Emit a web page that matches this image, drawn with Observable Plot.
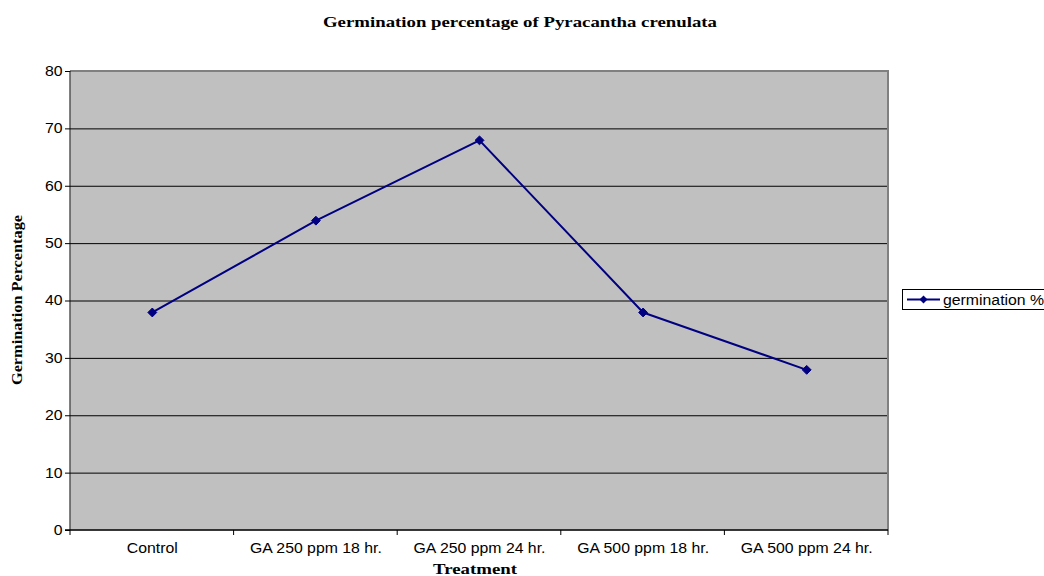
<!DOCTYPE html>
<html><head><meta charset="utf-8">
<script src="https://cdn.jsdelivr.net/npm/d3@7"></script>
<script src="https://cdn.jsdelivr.net/npm/@observablehq/plot@0.6"></script>
<style>body{margin:0;background:#fff}svg{display:block}</style>
</head><body><div id="chart"></div>
<script>
const categories = ["Control", "GA 250 ppm 18 hr.", "GA 250 ppm 24 hr.", "GA 500 ppm 18 hr.", "GA 500 ppm 24 hr."];
const germination = [38, 54, 68, 38, 28];
const yTicks = [0, 10, 20, 30, 40, 50, 60, 70, 80];
const seriesName = "germination %";
const title = "Germination percentage of Pyracantha crenulata";
const xLabel = "Treatment";
const yLabel = "Germination Percentage";

const data = categories.map((c, i) => ({treatment: c, value: germination[i]}));
const navy = "#000080";
const sans = "Liberation Sans, Arial, sans-serif";

const plot = Plot.plot({
  width: 1044, height: 576,
  marginLeft: 70, marginRight: 156, marginTop: 71, marginBottom: 46,
  style: {fontFamily: sans, fontSize: "14px", background: "#fff", overflow: "visible"},
  x: {type: "band", domain: categories, padding: 0, round: false, label: null},
  y: {domain: [0, 80], ticks: yTicks, label: null},
  marks: [
    Plot.frame({fill: "#c0c0c0", stroke: null}),
    Plot.ruleY(yTicks.filter(t => t > 0 && t < 80), {stroke: "#000", strokeWidth: 1}),
    Plot.axisX({tickSize: 0, tickPadding: 13, fill: "#000", fontSize: 14}),
    Plot.axisY({ticks: yTicks, tickSize: 5, tickPadding: 3, fontSize: 14, fill: "#000", stroke: "#000"}),
    Plot.line(data, {x: "treatment", y: "value", stroke: navy, strokeWidth: 2}),
    Plot.dot(data, {x: "treatment", y: "value", symbol: "diamond2", r: 4, fill: navy, stroke: navy, strokeWidth: 1})
  ]
});

const svg = d3.select(plot);
const xs = plot.scale("x"), ys = plot.scale("y");
const x0 = xs.range[0], x1 = xs.range[1];
const yTop = ys.apply(80), yBot = ys.apply(0);
const step = (x1 - x0) / categories.length;
const g = svg.append("g");
g.append("path").attr("d", `M${x0},${yTop}H${x1}V${yBot}`).attr("fill", "none").attr("stroke", "#808080").attr("stroke-width", 2);
g.append("line").attr("x1", x0).attr("x2", x0).attr("y1", yTop).attr("y2", yBot).attr("stroke", "#000");
g.append("line").attr("x1", x0 - 5).attr("x2", x1).attr("y1", yBot).attr("y2", yBot).attr("stroke", "#000").attr("stroke-width", 1.5);
for (let i = 0; i <= categories.length; i++) {
  const x = x0 + i * step;
  g.append("line").attr("x1", x).attr("x2", x).attr("y1", yBot).attr("y2", yBot + 5).attr("stroke", "#000");
}
const serif = "Liberation Serif, Times New Roman, serif";
svg.append("text").attr("x", 520).attr("y", 27).attr("text-anchor", "middle")
  .attr("font-family", serif).attr("font-weight", "bold").attr("font-size", 15)
  .attr("textLength", 394).attr("lengthAdjust", "spacingAndGlyphs").text(title);
svg.append("text").attr("x", 475).attr("y", 574).attr("text-anchor", "middle")
  .attr("font-family", serif).attr("font-weight", "bold").attr("font-size", 15)
  .attr("textLength", 84).attr("lengthAdjust", "spacingAndGlyphs").text(xLabel);
svg.append("text").attr("transform", `translate(22,300) rotate(-90)`).attr("text-anchor", "middle")
  .attr("font-family", serif).attr("font-weight", "bold").attr("font-size", 14)
  .attr("textLength", 170).attr("lengthAdjust", "spacingAndGlyphs").text(yLabel);
const lg = svg.append("g").attr("transform", "translate(902,289)");
lg.append("rect").attr("x", 0.5).attr("y", 0.5).attr("width", 160).attr("height", 20).attr("fill", "#fff").attr("stroke", "#000");
lg.append("line").attr("x1", 5).attr("x2", 38).attr("y1", 10.5).attr("y2", 10.5).attr("stroke", navy).attr("stroke-width", 2);
lg.append("path").attr("d", "M21.5,6.5L25.5,10.5L21.5,14.5L17.5,10.5Z").attr("fill", navy);
lg.append("text").attr("class", "widen").attr("x", 41).attr("y", 15.5).attr("text-anchor", "start").attr("font-family", sans).attr("font-size", 14).attr("fill", "#000").text(seriesName);

document.getElementById("chart").appendChild(plot);

// widen sans-serif labels slightly to match the reference's stretched glyphs
svg.selectAll("g[aria-label='x-axis tick label'] text, g[aria-label='y-axis tick label'] text, text.widen").each(function() {
  const len = this.getComputedTextLength();
  if (len > 0) {
    this.setAttribute("textLength", (len * 1.13).toFixed(1));
    this.setAttribute("lengthAdjust", "spacingAndGlyphs");
  }
});
</script></body></html>
